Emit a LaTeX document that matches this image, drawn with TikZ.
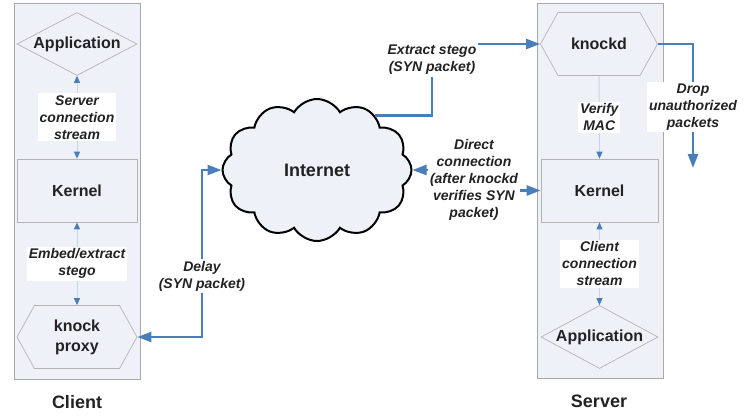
\documentclass[tikz,border=0pt]{standalone}
\usepackage{fontspec}
\setmainfont{Liberation Sans}
\usetikzlibrary{shapes.geometric}
\usetikzlibrary{shapes.symbols}
\usetikzlibrary{arrows.meta}
\definecolor{panelfill}{HTML}{EFF1F8}
\definecolor{panelline}{HTML}{A8A8A8}
\definecolor{shapeline}{HTML}{B4B4B4}
\definecolor{linkblue}{HTML}{4A7EBB}
\definecolor{faintline}{HTML}{C8D4E6}
\definecolor{textcol}{HTML}{222222}

\begin{document}
\begin{tikzpicture}[x=1pt,y=-1pt,
  panel/.style={draw=panelline, line width=0.8pt, fill=panelfill, minimum width=126pt, inner sep=0pt},
  box/.style={draw=shapeline, line width=0.7pt, fill=panelfill, minimum width=120pt, minimum height=63pt, text=textcol, align=center, font=\fontsize{16}{20}\selectfont\bfseries},
  hexa/.style={box, signal, signal to=east and west, signal pointer angle=122},
  appl/.style={box, diamond, aspect=2, inner sep=0pt},
  lbl/.style={fill=white, text=textcol, align=center, inner sep=2pt, font=\fontsize{14}{17}\selectfont\bfseries\itshape},
  title/.style={text=textcol, font=\fontsize{18}{22}\selectfont\bfseries},
  big/.style={draw=linkblue, line width=2.4pt, >={Triangle[length=14pt,width=10pt]}},
  thin/.style={draw=faintline, line width=1pt, >={Triangle[length=7pt,width=6pt,color=linkblue]}}
]
\useasboundingbox (0,0) rectangle (746,416);

% client side
\node[panel, minimum height=376pt] (client) at (77,191) {};
\node[appl] (capp) at (77,44) {Application};
\node[box] (ckernel) at (77,190.5) {Kernel};
\node[hexa] (proxy) at (77,337) {knock\\proxy};
\node[title] (clientname) at (77,402) {Client};

% server side
\node[panel, minimum height=375pt] (server) at (600,190.5) {};
\node[hexa, minimum width=117pt] (knockd) at (599,44) {knockd};
\node[box, minimum width=117pt] (skernel) at (599.5,190.5) {Kernel};
\node[appl, minimum width=117pt] (sapp) at (599.5,337) {Application};
\node[title] (servername) at (599,401) {Server};

% network
\node[cloud, cloud puffs=12, cloud puff arc=120, aspect=1.33, draw=black, line width=2pt, fill=panelfill,
      minimum width=189pt, minimum height=142pt, inner sep=0pt, text=textcol,
      font=\fontsize{18}{22}\selectfont\bfseries] (internet) at (317,170) {Internet};
\coordinate (dropend) at (693,168);

\draw[thin, <->] (capp.south) -- (ckernel.north)
  node[lbl, midway] (lserver) {Server\\connection\\stream};
\draw[thin, <->] (ckernel.south) -- (proxy.north)
  node[lbl, midway] (lembed) {Embed/extract\\stego};
\draw[thin, ->] (knockd.south) -- (skernel.north)
  node[lbl, midway] (lverify) {Verify\\MAC};
\draw[thin, <->] (skernel.south) -- (sapp.north)
  node[lbl, midway] (lclient) {Client\\connection\\stream};

\draw[big, <->] (proxy.east) -| (202,250) |- (internet.west);
\node[lbl] (ldelay) at (202,276) {Delay\\(SYN packet)};

\draw[big, ->] (internet.43) -| (432,44) -- (knockd.west);
\node[lbl] (lextract) at (432,60) {Extract stego\\(SYN packet)};

\draw[big, ->] (knockd.east) -| (dropend);
\node[lbl] (ldrop) at (693,107) {Drop\\unauthorized\\packets};

\draw[big, <->] (internet.east) -| (473,180) |- (skernel.west);
\node[lbl] (ldirect) at (474,180) {Direct\\connection\\(after knockd\\verifies SYN\\packet)};

\end{tikzpicture}
\end{document}
